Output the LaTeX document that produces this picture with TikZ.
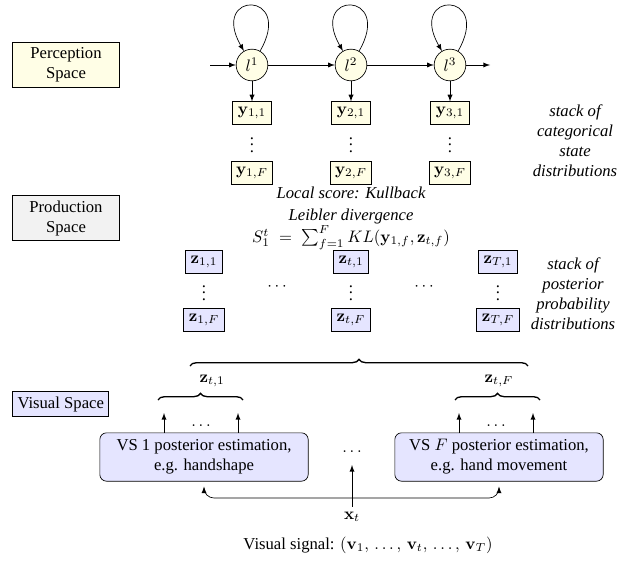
\documentclass[tikz,border=0pt]{standalone}
\usepackage[no-math]{fontspec}
\setmainfont{Liberation Serif}
\usetikzlibrary{decorations.pathreplacing}
\begin{document}
\begin{tikzpicture}[x=0.6pt,y=-0.6pt,>=latex]
        \tikzstyle{every node}=[inner sep=3pt]
        \tikzstyle{space}=[draw,semithick,align=center]
        \tikzstyle{state}=[circle,draw,fill=yellow!10,inner sep=1pt,minimum size=19pt]
        \tikzstyle{ybox}=[draw,semithick,fill=yellow!10]
        \tikzstyle{zbox}=[draw,semithick,fill=blue!10]
        \tikzstyle{vsbox}=[draw,fill=blue!10,rounded corners=4pt,align=center,minimum width=125pt,minimum height=29pt]
        \tikzstyle{note}=[font=\itshape,align=center]
        \tikzstyle{dots}=[inner sep=0pt]
        \tikzstyle{brace}=[decorate,decoration={brace,amplitude=4pt},thick]
        \useasboundingbox (0,0) rectangle (620,563);
        \node [space,fill=yellow!10,text width=2.05cm] (ps) at (66,65) {Perception\\Space};
        \node [space,fill=gray!10,text width=2.05cm] (prs) at (66,218) {Production\\Space};
        \node [space,fill=blue!10,anchor=west] (vs) at (12,404) {Visual Space};
        \foreach \i/\x in {1/252,2/351,3/450} {
            \node [state] (l\i) at (\x,65) {$l^{\i}$};
            \node [ybox] (y\i) at (\x,113) {$\mathbf{y}_{\i,1}$};
            \node [dots] (yd\i) at (\x,140) {$\vdots$};
            \node [ybox] (yF\i) at (\x,173) {$\mathbf{y}_{\i,F}$};
            \draw [->] (l\i) -- (y\i);
            \draw [->] (l\i) to [out=60,in=120,min distance=42pt] (l\i);
        }
        \coordinate (lin) at (210,65);
        \coordinate (lout) at (490,65);
        \draw [->] (lin) -- (l1);
        \draw [->] (l1) -- (l2);
        \draw [->] (l2) -- (l3);
        \draw [->] (l3) -- (lout);
        \node [note] (cat) at (575,141) {stack of\\categorical\\state\\distributions};
        \node [note,anchor=north,inner sep=0pt] (kl) at (351,187) {Local score: Kullback\\[1pt]Leibler divergence\\[1pt]$S_1^t\;=\;\sum_{f=1}^F KL(\mathbf{y}_{1,f},\mathbf{z}_{t,f})$};
        \foreach \n/\s/\x in {1/1/204,2/t/351,3/T/498} {
            \node [zbox] (z\n) at (\x,262) {$\mathbf{z}_{\s,1}$};
            \node [dots] (zd\n) at (\x,288) {$\vdots$};
            \node [zbox] (zF\n) at (\x,320) {$\mathbf{z}_{\s,F}$};
        }
        \node [dots] (zc1) at (277,287) {$\cdots$};
        \node [dots] (zc2) at (424,287) {$\cdots$};
        \node [note] (post) at (573,294) {stack of\\posterior\\probability\\distributions};
        \draw [brace] (190,366) -- (528,366);
        \node (zl1) at (212,381) {$\mathbf{z}_{t,1}$};
        \node (zlF) at (499,381) {$\mathbf{z}_{t,F}$};
        \draw [brace] (158,400) -- (243,400);
        \draw [brace] (455,400) -- (540,400);
        \node [vsbox] (vs1) at (204,457) {VS 1 posterior estimation,\\e.g. handshape};
        \node [vsbox] (vsF) at (499,457) {VS $F$ posterior estimation,\\e.g. hand movement};
        \coordinate (a1) at (164,413);
        \coordinate (a2) at (238,413);
        \coordinate (a3) at (459,413);
        \coordinate (a4) at (533,413);
        \foreach \a/\b in {a1/vs1,a2/vs1,a3/vsF,a4/vsF}
            \draw [->] (\b.north -| \a) -- (\a);
        \node [dots] (d1) at (201,426) {$\ldots$};
        \node [dots] (d2) at (496,426) {$\ldots$};
        \node [dots] (d3) at (352,452) {$\ldots$};
        \node (xt) at (352,517) {$\mathbf{x}_t$};
        \coordinate (mid) at (352,465);
        \coordinate (j) at (352,498);
        \draw [->] (xt) -- (mid);
        \draw [->,rounded corners=6pt,shorten >=3pt] (j) -| (vs1.south);
        \draw [->,rounded corners=6pt,shorten >=3pt] (j) -| (vsF.south);
        \node (sig) at (368,545) {Visual signal: $(\mathbf{v}_1,\,\ldots,\,\mathbf{v}_t,\,\ldots,\,\mathbf{v}_T)$};
    \end{tikzpicture}
\end{document}
